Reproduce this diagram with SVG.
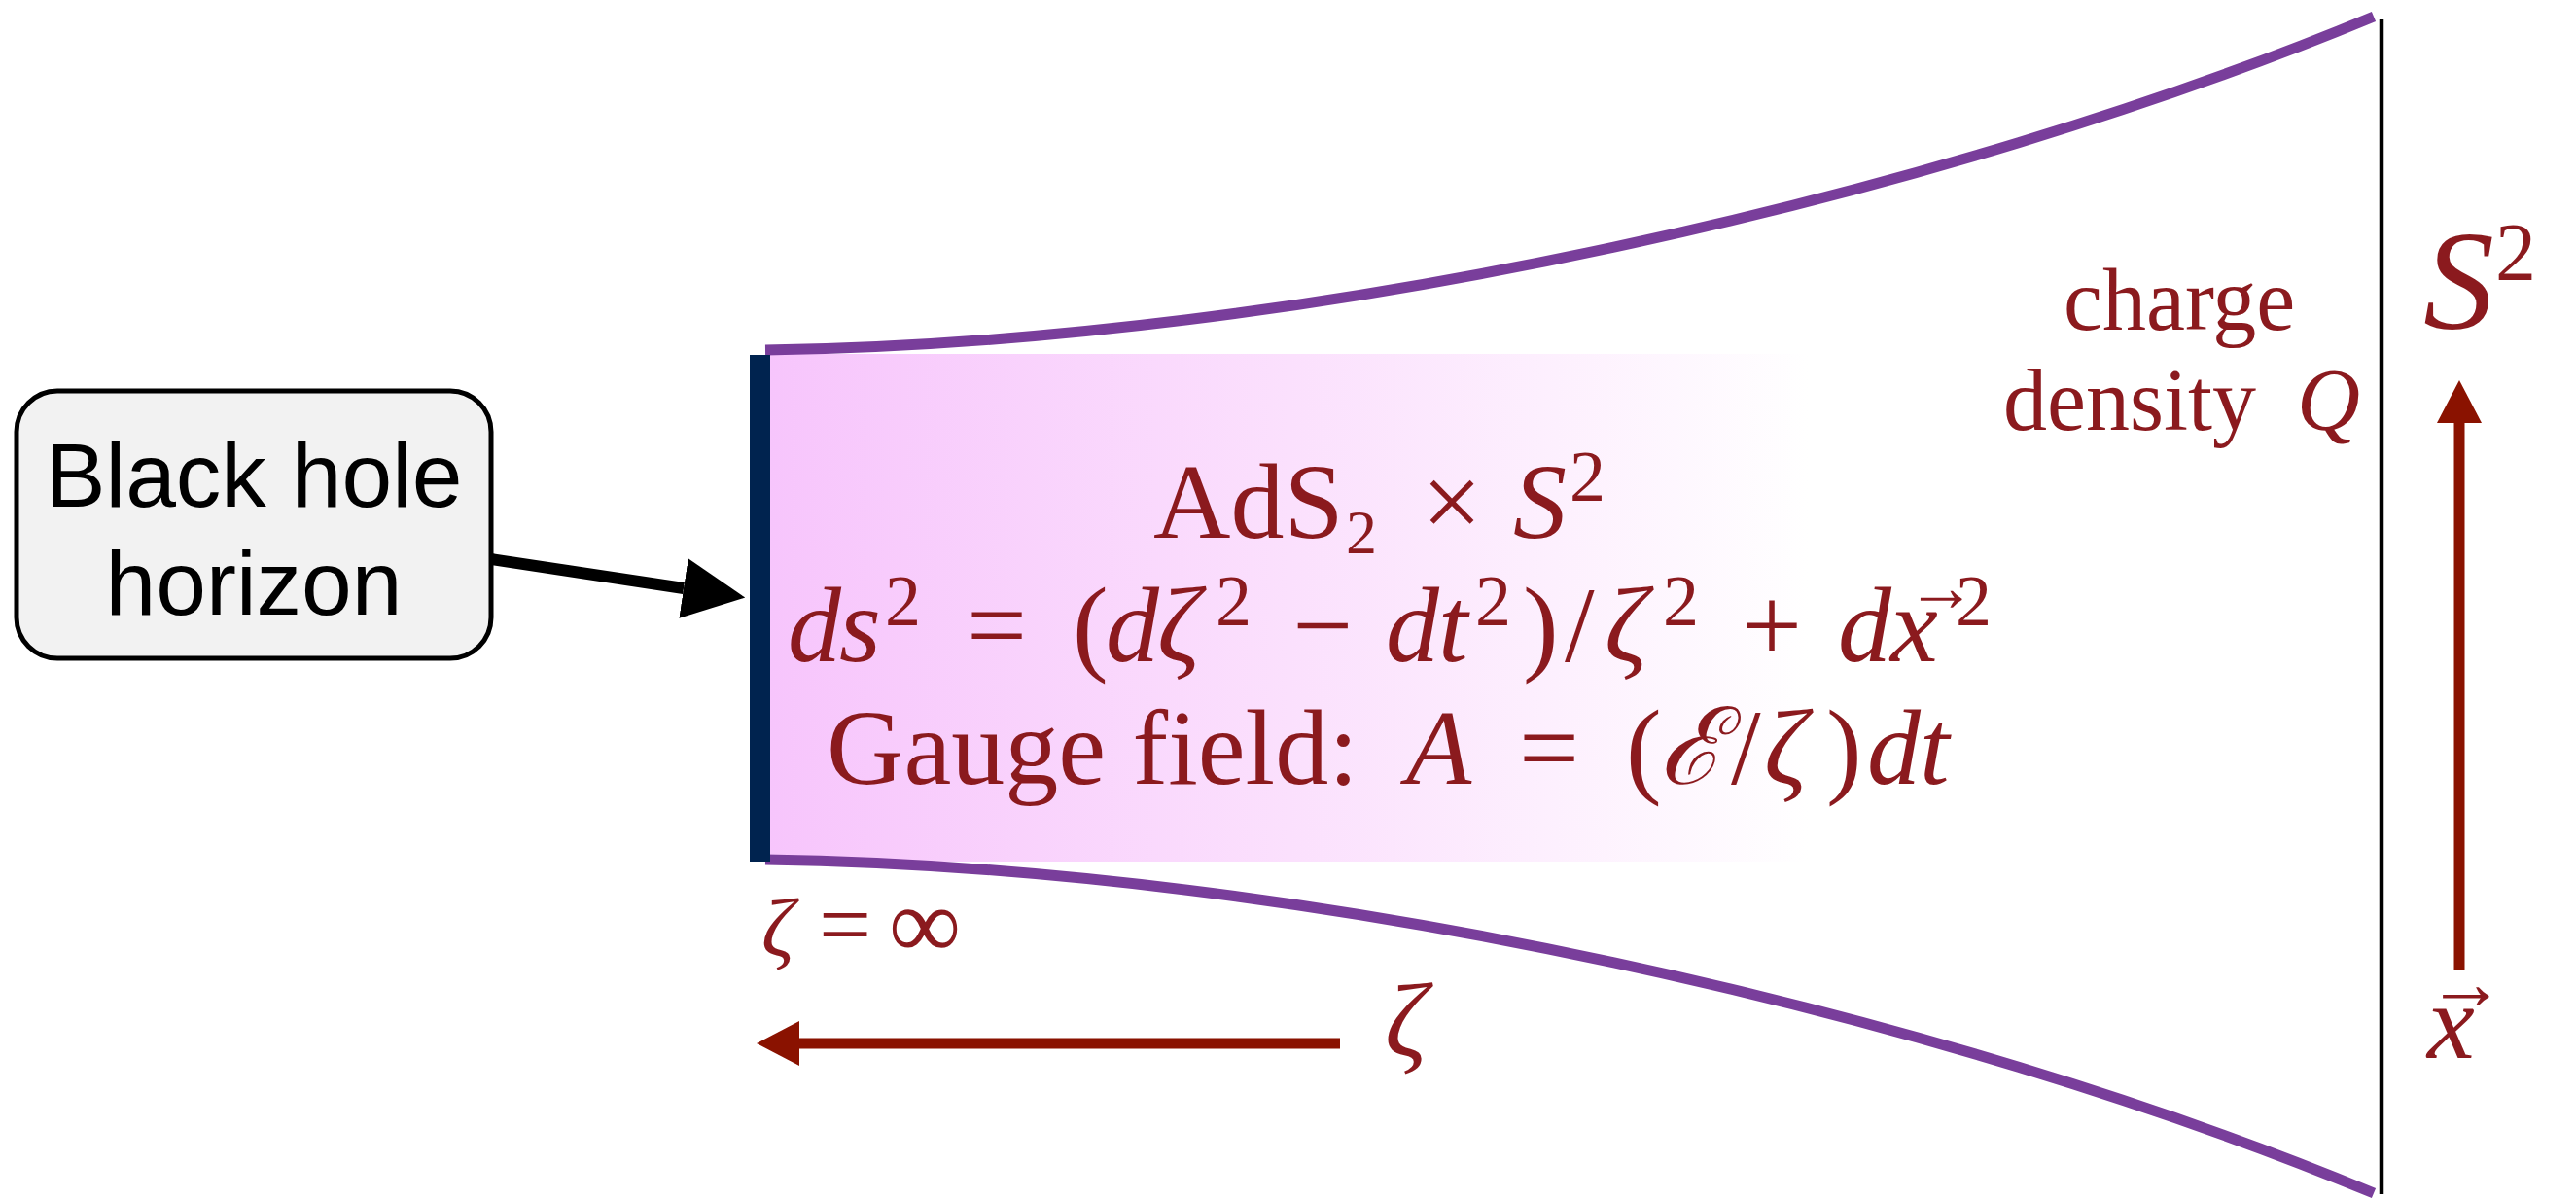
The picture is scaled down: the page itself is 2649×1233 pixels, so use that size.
<svg xmlns="http://www.w3.org/2000/svg" width="2649" height="1233" viewBox="0 0 2649 1233">
<style>
.m{font-family:"Liberation Serif","DejaVu Serif",serif;fill:#8b1a1e;font-size:110px}
.i{font-style:italic}
.sup{font-size:74px}
.sub{font-size:64px}
.lbl{font-family:"Liberation Serif","DejaVu Serif",serif;fill:#8b1a1e;font-size:90px}
.box{font-family:"Liberation Sans",Arial,sans-serif;font-size:93px;fill:#000;text-anchor:middle}
.purple{fill:none;stroke:#793e9b;stroke-width:11}
.redax{stroke:#8a1200;stroke-width:11;fill:none}
</style>
<defs>
<linearGradient id="pinkfade" x1="0" y1="0" x2="1" y2="0">
<stop offset="0" stop-color="#f7c5fc"/>
<stop offset="0.5" stop-color="#fbe0fd"/>
<stop offset="1" stop-color="#ffffff"/>
</linearGradient>
<marker id="blackHead" markerUnits="userSpaceOnUse" viewBox="0 0 64 62" refX="0" refY="31" markerWidth="64" markerHeight="62" orient="auto">
<path d="M0,0 L64,31 L0,62 z" fill="#000"/>
</marker>
<marker id="redHead" markerUnits="userSpaceOnUse" viewBox="0 0 44 46" refX="0" refY="23" markerWidth="44" markerHeight="46" orient="auto">
<path d="M0,0 L44,23 L0,46 z" fill="#8a1200"/>
</marker>
</defs>
<rect width="2649" height="1233" fill="#fff"/>

<g id="node-ads2">
<rect x="792" y="364" width="1068" height="522" fill="url(#pinkfade)"/>
<path class="purple" d="M787,360 C1350,352 2000,200 2441,17"/>
<path class="purple" d="M787,884 C1350,892 2000,1044 2441,1227"/>
<rect x="771" y="365" width="21" height="521" fill="#00234f"/>
<text class="m" x="1186" y="553">AdS</text>
<text class="m sub" x="1384" y="569">2</text>
<text class="m" x="1462" y="553">×</text>
<text class="m i" x="1556" y="553">S</text>
<text class="m sup" x="1614" y="515">2</text>

<text class="m i" x="810" y="680">d</text>
<text class="m i" x="863" y="680">s</text>
<text class="m sup" x="910" y="643">2</text>
<text class="m" x="994" y="680">=</text>
<text class="m" x="1103" y="680">(</text>
<text class="m i" x="1137" y="680">d</text>
<text class="m i" x="1190" y="680">ζ</text>
<text class="m sup" x="1250" y="643">2</text>
<text class="m" x="1329" y="680">−</text>
<text class="m i" x="1425" y="680">d</text>
<text class="m i" x="1479" y="680">t</text>
<text class="m sup" x="1517" y="643">2</text>
<text class="m" x="1566" y="680">)</text>
<text class="m" x="1609" y="680">/</text>
<text class="m i" x="1650" y="680">ζ</text>
<text class="m sup" x="1710" y="643">2</text>
<text class="m" x="1791" y="680">+</text>
<text class="m i" x="1890" y="680">d</text>
<text class="m i" x="1944" y="680">x</text>
<text class="m" x="1960" y="628" style="font-size:72px">→</text>
<text class="m sup" x="2011" y="643">2</text>

<text class="m" x="850" y="806">Gauge field:</text>
<text class="m i" x="1446" y="806">A</text>
<text class="m" x="1562" y="806">=</text>
<text class="m" x="1672" y="806">(</text>
<text class="m i" x="1706" y="806">ℰ</text>
<text class="m" x="1780" y="806">/</text>
<text class="m i" x="1814" y="806">ζ</text>
<text class="m" x="1878" y="806">)</text>
<text class="m i" x="1920" y="806">d</text>
<text class="m i" x="1974" y="806">t</text>
</g>

<g id="node-boundary">
<line x1="2449" y1="20" x2="2449" y2="1228" stroke="#000" stroke-width="4.5"/>
<text class="lbl" x="2122" y="339">charge</text>
<text class="lbl" x="2060" y="442">density</text>
<text class="lbl i" x="2362" y="442">Q</text>
</g>

<g id="node-bh">
<rect x="17" y="402" width="488" height="275" rx="42" ry="42" fill="#f2f2f2" stroke="#000" stroke-width="5"/>
<text class="box" x="261" y="521">Black hole</text>
<text class="box" x="261" y="632">horizon</text>
</g>

<g id="labels">
<text class="m i" x="783" y="983" style="font-size:84px">ζ</text>
<text class="m" x="842" y="983" style="font-size:96px">=</text>
<text class="m" x="914" y="985" style="font-size:104px">∞</text>
<text class="m i" x="1424" y="1086" style="font-size:108px">ζ</text>
<text class="m i" x="2492" y="338" style="font-size:146px">S</text>
<text class="m" x="2566" y="288" style="font-size:84px">2</text>
<text class="m i" x="2496" y="1088" style="font-size:110px">x</text>
<text class="m" x="2496" y="1038" style="font-size:80px">→</text>
</g>

<g id="connectors">
<line x1="505" y1="575" x2="703" y2="605" stroke="#000" stroke-width="12" marker-end="url(#blackHead)"/>
<line class="redax" x1="1378" y1="1073" x2="822" y2="1073" marker-end="url(#redHead)"/>
<line class="redax" x1="2529" y1="997" x2="2529" y2="435" marker-end="url(#redHead)"/>
</g>
</svg>
